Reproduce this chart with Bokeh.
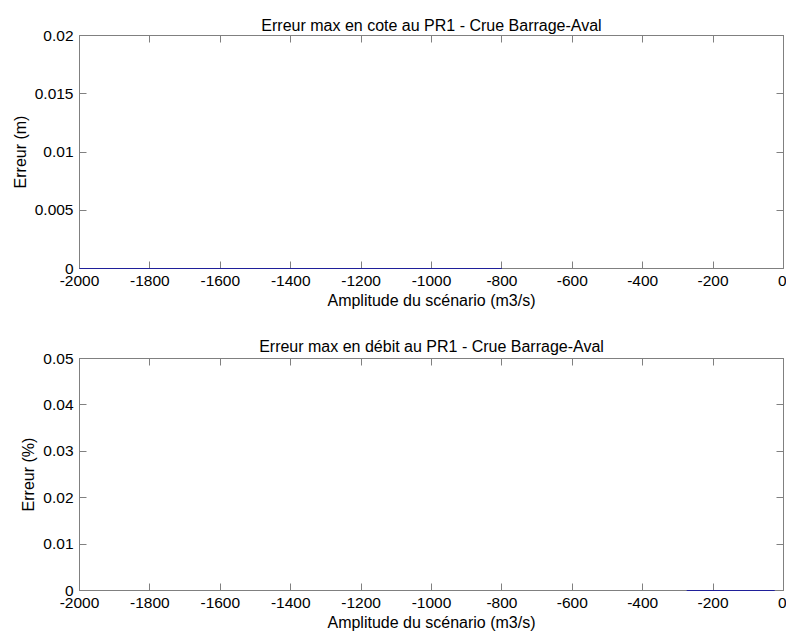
from bokeh.plotting import figure
from bokeh.models import Range1d, LinearAxis, FixedTicker, CustomJSTickFormatter
from bokeh.layouts import column
from bokeh.embed import file_html
from bokeh.resources import INLINE

# ---- data ----
x_ticks = [-2000, -1800, -1600, -1400, -1200, -1000, -800, -600, -400, -200, 0]
x_tick_labels = ["-2000", "-1800", "-1600", "-1400", "-1200", "-1000", "-800", "-600", "-400", "-200", "0"]

y1_ticks = [0, 0.005, 0.01, 0.015, 0.02]
y1_tick_labels = ["0", "0.005", "0.01", "0.015", "0.02"]
y2_ticks = [0, 0.01, 0.02, 0.03, 0.04, 0.05]
y2_tick_labels = ["0", "0.01", "0.02", "0.03", "0.04", "0.05"]

# Erreur max en cote (m)
amp_cote = [-2000, -1800, -1600, -1400, -1200, -1000, -800]
err_cote = [0, 0, 0, 0, 0, 0, 0]
# Erreur max en debit (%)
amp_debit = [-275, -200, -150, -100, -50, -25]
err_debit = [0, 0, 0, 0, 0, 0]

FONT = "Liberation Sans"
GRAY = "#808080"
LINE = "#1f1f9a"
W = 786


def make(title, ylabel, yr, yt, ytl, xs, ys, h, top, bottom, tstand):
    p = figure(width=W, height=h, output_backend="svg", toolbar_location=None,
               x_range=Range1d(-2000, 0), y_range=Range1d(*yr),
               min_border_left=79, min_border_right=3,
               min_border_top=top, min_border_bottom=bottom)
    p.title.text = title
    p.title.align = "center"
    p.title.text_font = FONT
    p.title.text_font_size = "16px"
    p.title.text_font_style = "normal"
    p.title.text_color = "black"
    p.title.standoff = tstand
    p.grid.visible = False
    p.outline_line_color = GRAY
    p.background_fill_color = "white"
    p.border_fill_color = "white"

    for ax, ticks, labels in ((p.xaxis[0], x_ticks, x_tick_labels), (p.yaxis[0], yt, ytl)):
        ax.ticker = FixedTicker(ticks=ticks)
        ax.major_label_overrides = {t: l for t, l in zip(ticks, labels)}
        ax.major_label_text_font = FONT
        ax.major_label_text_font_size = "15.5px"
        ax.major_label_text_color = "black"
        ax.major_tick_in = 7
        ax.major_tick_out = 0
        ax.minor_tick_line_color = None
        ax.major_tick_line_color = GRAY
        ax.axis_line_color = GRAY
        ax.axis_label_text_font = FONT
        ax.axis_label_text_font_size = "16px"
        ax.axis_label_text_font_style = "normal"
        ax.axis_label_text_color = "black"
    p.xaxis[0].major_label_standoff = 7
    p.xaxis[0].axis_label_standoff = 3
    p.yaxis[0].major_label_standoff = 6
    p.yaxis[0].axis_label_standoff = 3
    p.xaxis[0].axis_label = "Amplitude du scénario (m3/s)"
    p.yaxis[0].axis_label = ylabel

    blank = CustomJSTickFormatter(code="return ''")
    for loc, ticks in (("right", yt), ("above", x_ticks)):
        ax = LinearAxis(ticker=FixedTicker(ticks=ticks), formatter=blank,
                        major_tick_in=7, major_tick_out=0,
                        minor_tick_line_color=None, major_tick_line_color=GRAY,
                        axis_line_color=GRAY, major_label_standoff=0,
                        major_label_text_font_size="1px")
        p.add_layout(ax, loc)

    p.line(xs, ys, line_color=LINE, line_width=1.2, level="overlay")
    return p


p1 = make("Erreur max en cote au PR1 - Crue Barrage-Aval", "Erreur (m)", (0, 0.02),
          y1_ticks, y1_tick_labels, amp_cote, err_cote, 323, 35, 55, 4)
p2 = make("Erreur max en débit au PR1 - Crue Barrage-Aval", "Erreur (%)", (0, 0.05),
          y2_ticks, y2_tick_labels, amp_debit, err_debit, 310, 35, 42, 8)

layout = column(p1, p2, spacing=0)
open("out.html", "w").write(file_html(layout, INLINE))
